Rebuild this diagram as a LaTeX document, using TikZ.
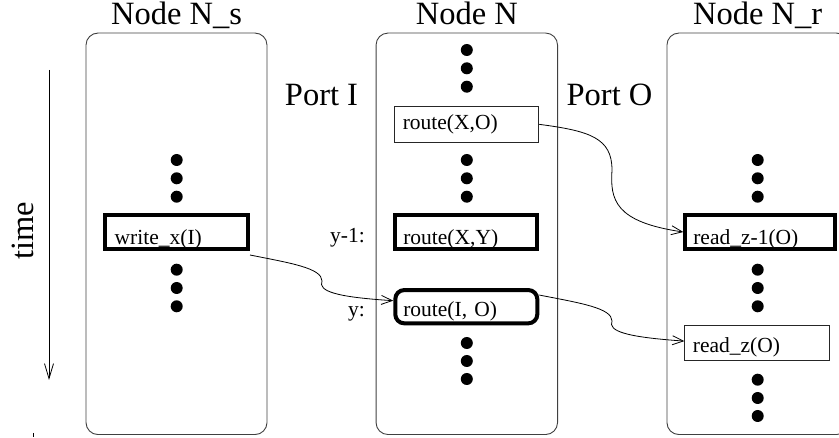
\documentclass[tikz,border=0pt]{standalone}
\usepackage{fontspec}
\setmainfont{Liberation Serif}
\usetikzlibrary{arrows.meta,calc}
\begin{document}
\begin{tikzpicture}[x=1pt,y=-1pt,
  col/.style={draw=black!75, line width=0.9pt, rounded corners=12pt, inner sep=0},
  ttl/.style={font=\fontsize{32.5}{38}\selectfont, anchor=base, inner sep=0},
  boxfont/.style={font=\fontsize{21.5}{25}\selectfont},
  thickbox/.style={boxfont, draw, line width=4pt, inner ysep=0, align=left},
  thinbox/.style={boxfont, draw=black!85, line width=0.9pt, inner ysep=0, align=left},
  conn/.style={line width=0.8pt, -{Straight Barb[length=11pt,width=9pt]}},
  lbl/.style={boxfont, anchor=base east, inner sep=0}
]
\useasboundingbox (0,0) rectangle (839,438);

% columns
\node[col, minimum width=181pt, minimum height=401.5pt] (cs) at (176.5,233.8) {};
\node[col, minimum width=181.5pt, minimum height=401.5pt] (cn) at (466.8,233.8) {};
\node[col, minimum width=181.5pt, minimum height=401.5pt] (cr) at (757.7,233.8) {};

% titles
\node[ttl] (ts) at (176.5,25) {Node N\_s};
\node[ttl] (tn) at (466.8,25) {Node N};
\node[ttl] (tr) at (757.7,25) {Node N\_r};
\node[ttl] (pi) at (321.5,106) {Port I};
\node[ttl] (po) at (609.5,106) {Port O};

% time axis
\node[ttl, rotate=90] (time) at (33,231) {time};
\coordinate (t0) at (49,70);
\coordinate (t1) at (49,380);
\draw[line width=0.8pt, -{Straight Barb[length=15pt,width=9pt]}] (t0) -- (t1);
\draw[line width=0.8pt] (33.5,433) -- (33.5,437);

% dots
\foreach \x/\y in {176.7/160,176.7/178.3,176.7/196.7,176.7/269.7,176.7/288,176.7/306.3,
  466.8/50,466.8/68.3,466.8/86.7,466.8/160,466.8/178.3,466.8/196.7,466.8/343,466.8/361,466.8/379,
  757.7/160,757.7/178.3,757.7/196.7,757.7/269.7,757.7/288,757.7/306.3,757.7/379.7,757.7/398,757.7/416}
  \fill (\x,\y) circle[radius=6pt];

% boxes
\node[thickbox, inner xsep=10pt, text width=123.3pt, text height=30pt, text depth=4pt] (wx) at (176.35,232) {write\_x(I)};
\node[thinbox, inner xsep=8pt, text width=128pt, text height=23.5pt, text depth=12.2pt] (rxo) at (466.8,124.35) {route(X,O)};
\node[thickbox, inner xsep=8pt, text width=126pt, text height=30pt, text depth=4pt] (rxy) at (466.3,232) {route(X,Y)};
\node[thickbox, rounded corners=9pt, inner xsep=8pt, text width=126pt, text height=26.3pt, text depth=7pt] (rio) at (466.3,306.7) {route(I, O)};
\node[thickbox, inner xsep=8pt, text width=133.4pt, text height=30pt, text depth=4pt] (rzm) at (760,232) {read\_z-1(O)};
\node[thinbox, inner xsep=8pt, text width=128.7pt, text height=27.5pt, text depth=7.7pt] (rz) at (757.2,343.1) {read\_z(O)};

% side labels
\node[lbl] (ym) at (365,243) {y-1:};
\node[lbl] (yy) at (365,316.3) {y:};

% connectors
\coordinate (m1) at (322,281);
\coordinate (m2) at (612,170);
\coordinate (m3) at (612,321);
\draw[conn] ($(wx.south east)+(0,4)$) .. controls (290,263) and (322,268) .. (m1)
  .. controls (318,291) and (335,297) .. ($(rio.west)+(0,-6)$);
\draw[conn] (rxo.east) .. controls (590,131) and (612,138) .. (m2)
  .. controls (610,200) and (615,222) .. (rzm.west);
\draw[conn] ($(rio.north east)+(0,7)$) .. controls (580,303) and (612,308) .. (m3)
  .. controls (608,331) and (625,337) .. ($(rz.west)+(0,-2)$);
\end{tikzpicture}
\end{document}
